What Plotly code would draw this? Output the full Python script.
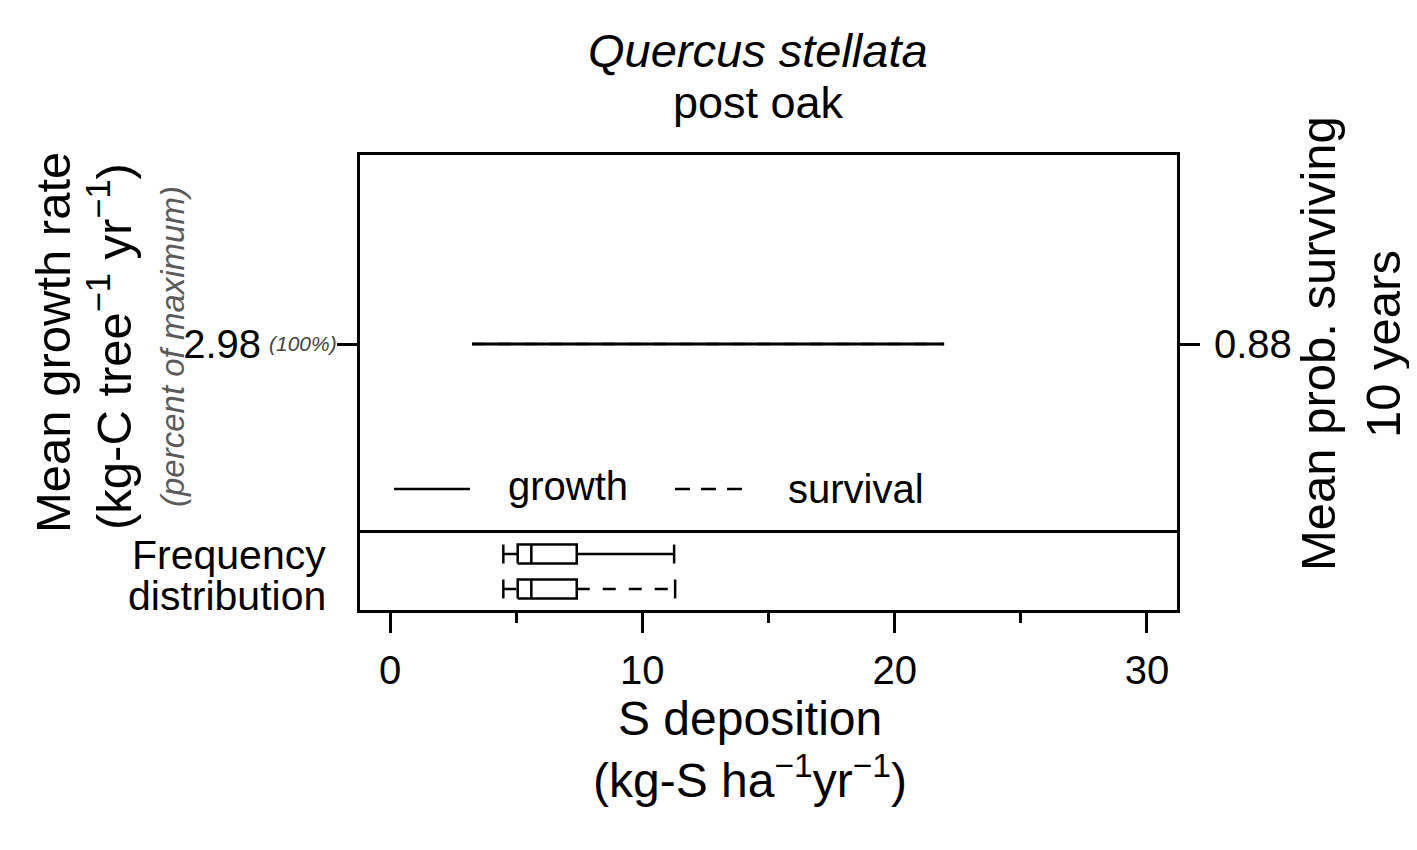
import plotly.graph_objects as go

# values
dep_range = [3.25, 21.96]          # S deposition span of the fitted curves
growth = [2.98, 2.98]              # mean growth rate (kg-C tree-1 yr-1)
survival = [0.88, 0.88]            # mean prob. surviving 10 years
growth_pct = '100%'

box_rows = ['growth', 'survival']
box_lo = [4.49, 4.49]
box_q1 = [5.06, 5.06]
box_med = [5.6, 5.6]
box_q3 = [7.4, 7.4]
box_hi = [11.26, 11.3]
box_pos = [2, 1]

x_ticks = [0, 10, 20, 30]

# the page body has an 8px margin, so the figure is a bit smaller than the window
OFF = 8
W, H = 1417 - 2 * OFF, 850 - 2 * OFF
FONT = 'Liberation Sans'


def px(x):
    return (x - OFF) / W


def py(y):
    return 1 - (y - OFF) / H


fig = go.Figure()

# survival first, the solid growth line sits on top of it
fig.add_trace(go.Scatter(x=dep_range, y=survival, xaxis='x2', yaxis='y2', mode='lines',
                         line=dict(color='black', width=2.5, dash='13px,13px'),
                         showlegend=False, hoverinfo='skip'))
fig.add_trace(go.Scatter(x=dep_range, y=growth, xaxis='x2', yaxis='y', mode='lines',
                         line=dict(color='black', width=2.8),
                         showlegend=False, hoverinfo='skip'))

# frequency distribution boxplots
half = 0.27
for i, name in enumerate(box_rows):
    yc = box_pos[i]
    bx = [box_q1[i], box_q3[i], box_q3[i], box_q1[i], box_q1[i], None,
          box_med[i], box_med[i], None,
          box_lo[i], box_lo[i], None,
          box_hi[i], box_hi[i]]
    by = [yc - half, yc - half, yc + half, yc + half, yc - half, None,
          yc - half, yc + half, None,
          yc - half, yc + half, None,
          yc - half, yc + half]
    fig.add_trace(go.Scatter(x=bx, y=by, xaxis='x', yaxis='y3', mode='lines',
                             line=dict(color='black', width=2.5),
                             showlegend=False, hoverinfo='skip'))
    dash = 'solid' if name == 'growth' else '13px,13px'
    fig.add_trace(go.Scatter(x=[box_lo[i], box_q1[i], None, box_q3[i], box_hi[i]],
                             y=[yc, yc, None, yc, yc], xaxis='x', yaxis='y3', mode='lines',
                             line=dict(color='black', width=2.5, dash=dash),
                             showlegend=False, hoverinfo='skip'))

xdom = [px(360), px(1177)]
top_dom = [py(533), py(155)]
bot_dom = [py(610), py(533)]
xr = [-1.19, 31.19]

fig.update_layout(
    width=W, height=H,
    margin=dict(l=0, r=0, t=0, b=0),
    paper_bgcolor='white', plot_bgcolor='white',
    font=dict(family=FONT, color='black'),
    showlegend=False,
    xaxis=dict(domain=xdom, range=xr, anchor='y3', showgrid=False, zeroline=False,
               showline=True, mirror=True, linecolor='black', linewidth=3,
               tickvals=x_ticks, ticktext=[str(t) for t in x_ticks],
               ticks='outside', ticklen=20, tickwidth=2.5, tickcolor='black',
               minor=dict(dtick=5, tick0=0, ticks='outside', ticklen=10, tickwidth=2.5, tickcolor='black'),
               tickfont=dict(size=40), ticklabelstandoff=3),
    xaxis2=dict(domain=xdom, range=xr, anchor='y', matches='x', side='top', showgrid=False, zeroline=False,
                showline=True, mirror=False, linecolor='black', linewidth=3,
                showticklabels=False, ticks=''),
    yaxis=dict(domain=top_dom, range=[0, 2 * growth[0]], anchor='x2', showgrid=False, zeroline=False,
               showline=True, linecolor='black', linewidth=3,
               tickvals=[growth[0]], ticktext=['%.2f' % growth[0]],
               ticks='outside', ticklen=20, tickwidth=2.5, tickcolor='black',
               tickfont=dict(size=40), ticklabelstandoff=68),
    yaxis2=dict(overlaying='y', side='right', anchor='x2', range=[0, 2 * survival[0]],
                showgrid=False, zeroline=False, showline=True, linecolor='black', linewidth=3,
                tickvals=[survival[0]], ticktext=['%.2f' % survival[0]],
                ticks='outside', ticklen=20, tickwidth=2.5, tickcolor='black',
                tickfont=dict(size=40), ticklabelstandoff=6),
    yaxis3=dict(domain=bot_dom, range=[0.4, 2.6], anchor='x', showgrid=False, zeroline=False,
                showline=True, mirror=True, linecolor='black', linewidth=3,
                showticklabels=False, ticks=''),
)


def note(text, x, y, size, angle=0, xanchor='center', color='black'):
    fig.add_annotation(text=text, x=px(x), y=py(y), xref='paper', yref='paper',
                       showarrow=False, textangle=angle, xanchor=xanchor, yanchor='middle',
                       font=dict(family=FONT, size=size, color=color))


# titles
note('<i>Quercus stellata</i>', 758, 50, 47)
note('post oak', 758, 103, 45)
note('S deposition', 750, 718, 48)
note('(kg-S ha<sup>\u22121</sup>yr<sup>\u22121</sup>)', 750, 777, 48)
note('Mean growth rate', 53, 343, 49, angle=-90)
note('(kg-C tree<sup>\u22121</sup> yr<sup>\u22121</sup>)', 110, 346, 49, angle=-90)
note('<i>(percent of maximum)</i>', 172, 347, 33, angle=-90, color='#5a5a5a')
note('<i>(%s)</i>' % growth_pct, 339, 344, 21, xanchor='right', color='#444444')
note('Mean prob. surviving', 1318, 344, 49, angle=-90)
note('10 years', 1383, 344, 49, angle=-90)
note('Frequency', 328, 555, 41, xanchor='right')
note('distribution', 328, 596, 41, xanchor='right')

# legend
fig.add_shape(type='line', xref='paper', yref='paper', x0=px(394), x1=px(470), y0=py(489), y1=py(489),
              line=dict(color='black', width=2.5))
fig.add_shape(type='line', xref='paper', yref='paper', x0=px(675), x1=px(742), y0=py(489), y1=py(489),
              line=dict(color='black', width=2.5, dash='15px,11px'))
note('growth', 506, 486, 40, xanchor='left')
note('survival', 786, 489, 40, xanchor='left')

fig.write_html('out.html')
